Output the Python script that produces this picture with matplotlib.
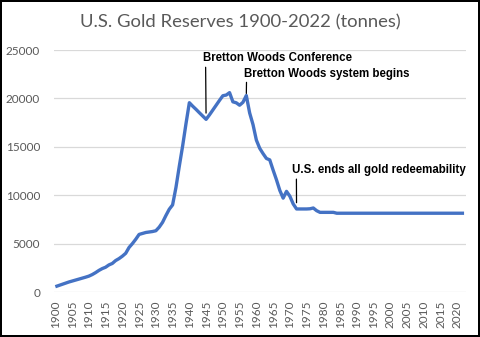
import numpy as np
import matplotlib
matplotlib.use("Agg")
import matplotlib.pyplot as plt

# US gold reserves (tonnes)
years = list(range(1900, 2023))
reserves = [
    550, 670, 790, 910, 1030, 1130, 1230, 1330, 1430, 1530,          # 1900s
    1640, 1800, 2000, 2230, 2420, 2560, 2800, 2950, 3250, 3450,      # 1910s
    3700, 4000, 4600, 5000, 5450, 5950, 6050, 6150, 6200, 6250,      # 1920s
    6330, 6700, 7200, 7900, 8550, 9000, 10800, 13000, 15100, 17400,  # 1930s
    19560, 19200, 18870, 18520, 18180, 17840, 18300, 18800, 19300, 19800,  # 1940s
    20280, 20350, 20600, 19650, 19550, 19300, 19600, 20300, 18500, 17300,  # 1950s
    15700, 14850, 14300, 13800, 13650, 12600, 11600, 10500, 9700, 10400,   # 1960s
    9900, 9100, 8580, 8580, 8580, 8580, 8600, 8680, 8400, 8230,      # 1970s
    8230, 8230, 8230, 8230, 8140, 8140, 8140, 8140, 8140, 8140,      # 1980s
] + [8140] * 33                                                      # 1990-2022

events = ["Bretton Woods Conference", "Bretton Woods system begins",
          "U.S. ends all gold redeemability"]
event_years = [1945, 1957, 1972]

title = "U.S. Gold Reserves 1900-2022 (tonnes)"
gray = "#595959"
blue = "#4472C4"

fig = plt.figure(figsize=(4.8, 3.37), dpi=100)
fig.patch.set_edgecolor("black")
fig.patch.set_linewidth(1.5)
ax = fig.add_axes([0.1125, 0.1335, 0.8585, 0.718])

ax.plot(years, reserves, color=blue, lw=2.4, solid_capstyle="butt", zorder=3)

ax.set_xlim(1899.6, 2022.6)
ax.set_ylim(0, 25000)
ax.set_yticks(range(0, 25001, 5000))
ax.set_xticks(range(1900, 2021, 5))
ax.tick_params(axis="x", labelrotation=90, length=0, pad=6, labelsize=8.5, colors=gray)
ax.tick_params(axis="y", length=0, pad=10, labelsize=8.5, colors=gray)
for lab in ax.get_xticklabels() + ax.get_yticklabels():
    lab.set_family("Lato")
ax.grid(axis="y", color="#d9d9d9", lw=0.9)
ax.set_axisbelow(True)
for s in ax.spines.values():
    s.set_visible(False)

fig.text(0.5, 0.935, title, ha="center", va="center", fontsize=13.3,
         color=gray, family="Lato")

# annotations: text offset in points from the data point, rel. pos of line start, shrink at point
offsets = [(-2.5, 39.5), (-1.5, 11.5), (-3, 23.5)]
relx = [0.02, 0.014, 0.023]
shrink = [4.5, 1.5, 4.5]
for i, (name, yr) in enumerate(zip(events, event_years)):
    val = reserves[years.index(yr)]
    ax.annotate(name, xy=(yr, val), xytext=offsets[i], textcoords="offset points",
                ha="left", va="bottom", fontsize=8.3, fontweight="bold",
                family="Liberation Sans", color="black",
                arrowprops=dict(arrowstyle="-", color="black", lw=0.9,
                                relpos=(relx[i], 0), shrinkA=0, shrinkB=shrink[i]))

fig.savefig("out.png", dpi=100, edgecolor=fig.get_edgecolor())
